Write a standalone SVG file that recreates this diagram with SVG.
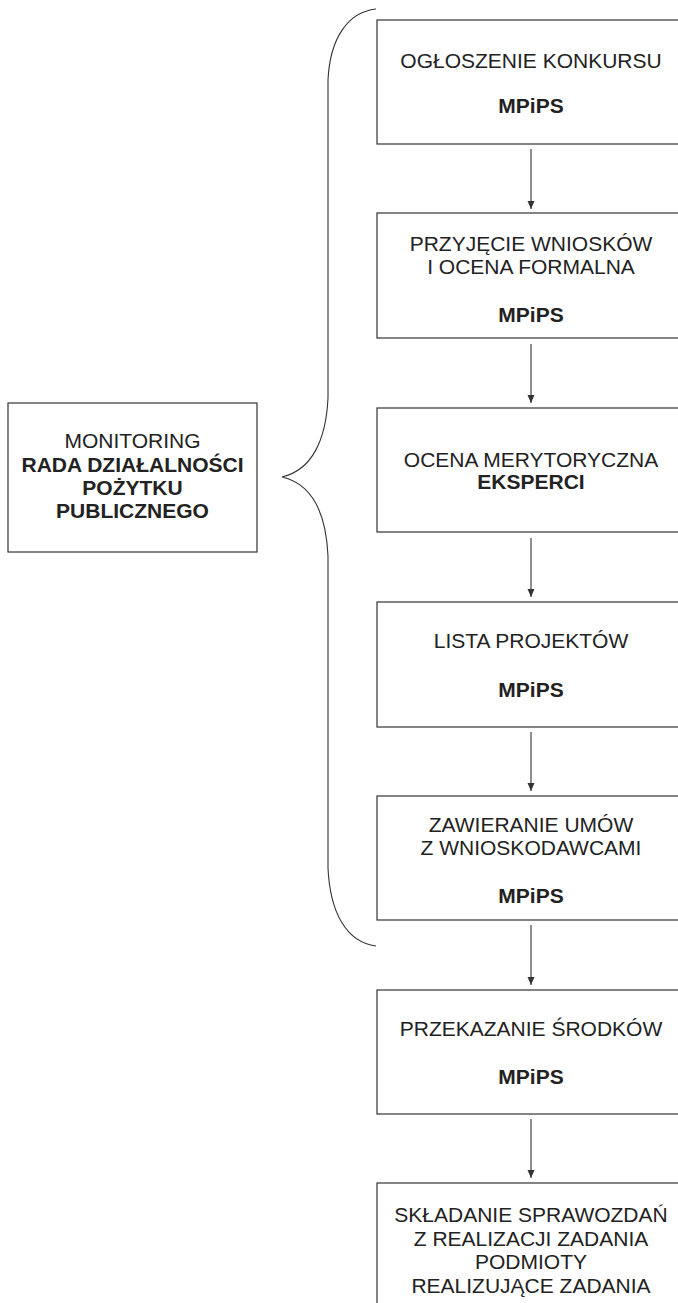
<svg xmlns="http://www.w3.org/2000/svg" width="678" height="1303" viewBox="0 0 678 1303">
<style>
.box{fill:#fff;stroke:#333;stroke-width:1.2}
.t{font-family:"Liberation Sans",Arial,sans-serif;font-size:21px;fill:#222;text-anchor:middle}
.b{font-weight:bold}
.c{fill:none;stroke:#333;stroke-width:1.1}
</style>
<defs>
<marker id="ah" markerUnits="userSpaceOnUse" markerWidth="8" markerHeight="9" refX="3.5" refY="8" orient="auto-start-reverse" viewBox="0 0 7 8">
<path d="M0,0 L7,0 L3.5,8 Z" fill="#333" transform="rotate(-90 3.5 4)"/>
</marker>
<marker id="arr" markerUnits="userSpaceOnUse" markerWidth="8" markerHeight="8" refX="8" refY="4" orient="auto" viewBox="0 0 8 8">
<path d="M0,0.5 L8,4 L0,7.5 Z" fill="#333"/>
</marker>
</defs>
<rect width="678" height="1303" fill="#fff"/>
<g id="connectors">
<line class="c" x1="531" y1="149" x2="531" y2="209" marker-end="url(#arr)"/>
<line class="c" x1="531" y1="344" x2="531" y2="403" marker-end="url(#arr)"/>
<line class="c" x1="531" y1="538" x2="531" y2="597" marker-end="url(#arr)"/>
<line class="c" x1="531" y1="732" x2="531" y2="791" marker-end="url(#arr)"/>
<line class="c" x1="531" y1="925" x2="531" y2="985" marker-end="url(#arr)"/>
<line class="c" x1="531" y1="1119" x2="531" y2="1178" marker-end="url(#arr)"/>
<path id="brace" class="c" d="M376,9 C348,12 330,38 328,80 L328,398 C326,440 312,470 282,477 C312,484 326,512 328,556 L328,868 C330,912 346,942 376,946"/>
</g>
<g id="monitoring">
<rect class="box" x="8" y="403" width="249" height="149"/>
<text class="t" x="132.5" y="448">MONITORING</text>
<text class="t b" x="132.5" y="472">RADA DZIAŁALNOŚCI</text>
<text class="t b" x="132.5" y="495">POŻYTKU</text>
<text class="t b" x="132.5" y="518">PUBLICZNEGO</text>
</g>
<g id="n1">
<rect class="box" x="377" y="20" width="310" height="124"/>
<text class="t" x="531" y="68">OGŁOSZENIE KONKURSU</text>
<text class="t b" x="531" y="113">MPiPS</text>
</g>
<g id="n2">
<rect class="box" x="377" y="213" width="310" height="125"/>
<text class="t" x="531" y="251">PRZYJĘCIE WNIOSKÓW</text>
<text class="t" x="531" y="274">I OCENA FORMALNA</text>
<text class="t b" x="531" y="322">MPiPS</text>
</g>
<g id="n3">
<rect class="box" x="377" y="408" width="310" height="124"/>
<text class="t" x="531" y="467">OCENA MERYTORYCZNA</text>
<text class="t b" x="531" y="489">EKSPERCI</text>
</g>
<g id="n4">
<rect class="box" x="377" y="602" width="310" height="125"/>
<text class="t" x="531" y="648">LISTA PROJEKTÓW</text>
<text class="t b" x="531" y="697">MPiPS</text>
</g>
<g id="n5">
<rect class="box" x="377" y="796" width="310" height="124"/>
<text class="t" x="531" y="832">ZAWIERANIE UMÓW</text>
<text class="t" x="531" y="855">Z WNIOSKODAWCAMI</text>
<text class="t b" x="531" y="903">MPiPS</text>
</g>
<g id="n6">
<rect class="box" x="377" y="990" width="310" height="124"/>
<text class="t" x="531" y="1036">PRZEKAZANIE ŚRODKÓW</text>
<text class="t b" x="531" y="1084">MPiPS</text>
</g>
<g id="n7">
<rect class="box" x="377" y="1183" width="310" height="140"/>
<text class="t" x="531" y="1222">SKŁADANIE SPRAWOZDAŃ</text>
<text class="t" x="531" y="1246">Z REALIZACJI ZADANIA</text>
<text class="t" x="531" y="1269">PODMIOTY</text>
<text class="t" x="531" y="1293">REALIZUJĄCE ZADANIA</text>
</g>
</svg>
